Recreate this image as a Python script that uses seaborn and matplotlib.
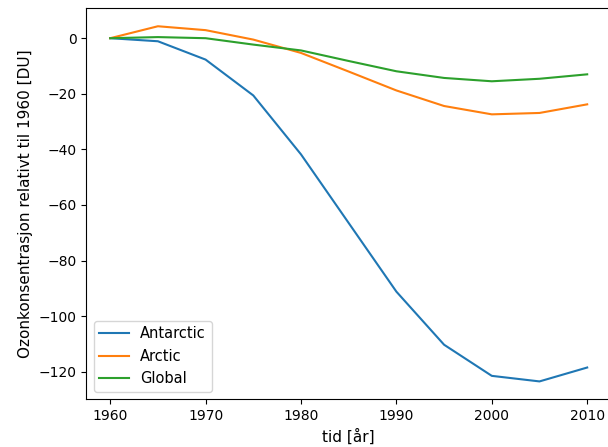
import pandas as pd
import matplotlib
matplotlib.use("Agg")
import matplotlib.pyplot as plt
import seaborn as sns

years = [1960, 1965, 1970, 1975, 1980, 1985, 1990, 1995, 2000, 2005, 2010]
antarctic = [0, -1.1, -7.7, -20.6, -41.8, -66.5, -91.2, -110.3, -121.5, -123.5, -118.5]
arctic = [0, 4.3, 2.9, -0.5, -5.3, -12.0, -18.8, -24.4, -27.4, -26.9, -23.8]
global_ = [0, 0.4, 0.0, -2.3, -4.4, -8.2, -11.9, -14.3, -15.5, -14.6, -13.0]

df = pd.concat([
    pd.DataFrame({"year": years, "ozone": antarctic, "region": "Antarctic"}),
    pd.DataFrame({"year": years, "ozone": arctic, "region": "Arctic"}),
    pd.DataFrame({"year": years, "ozone": global_, "region": "Global"}),
])

fig, ax = plt.subplots(figsize=(6.08, 4.47), dpi=100)
sns.lineplot(data=df, x="year", y="ozone", hue="region", palette="tab10", ax=ax)
ax.legend(loc="lower left", fontsize=10.5)
ax.set_xlabel("tid [år]", fontsize=11)
ax.set_ylabel("Ozonkonsentrasjon relativt til 1960 [DU]", fontsize=11)
# the reference is cropped at the right, so the right spine falls just outside
plt.subplots_adjust(left=0.142, right=1.005, top=0.981, bottom=0.107)
plt.savefig("out.png")
